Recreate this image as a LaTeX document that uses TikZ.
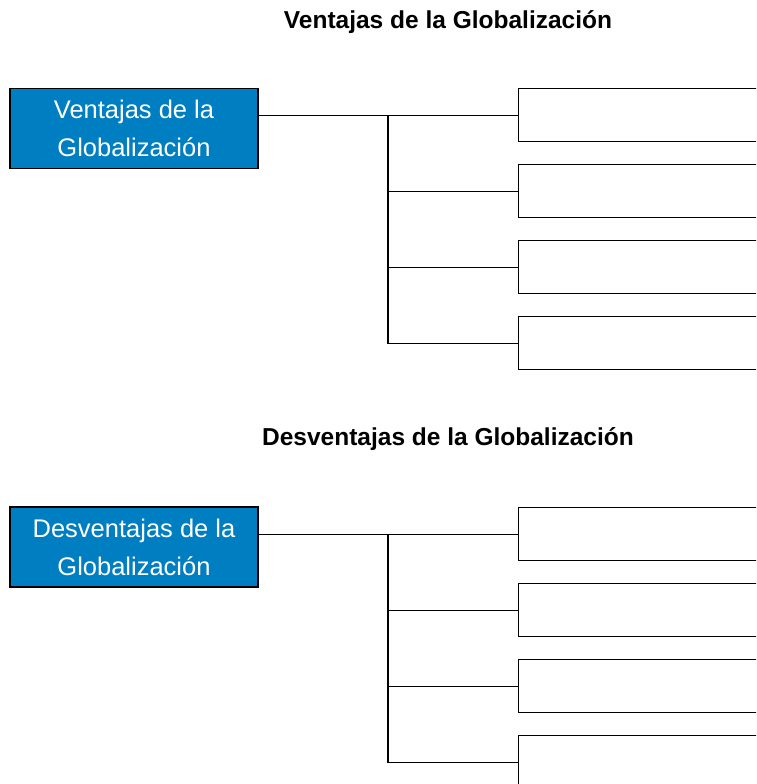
\documentclass[tikz,border=0pt]{standalone}
\usepackage{fontspec}
\setmainfont{Liberation Sans}
\definecolor{azul}{RGB}{0,126,194}
\begin{document}
\begin{tikzpicture}[x=1pt, y=-1pt, line width=1.2pt,
    tema/.style={draw, fill=azul, text=white, align=center,
        minimum width=248pt, minimum height=80pt, inner sep=0pt,
        font=\fontsize{25.5}{38}\selectfont},
    casilla/.style={draw, anchor=north west,
        minimum width=260pt, minimum height=53pt, inner sep=0pt},
    titulo/.style={anchor=base, font=\bfseries\fontsize{24.5}{29}\selectfont}]
\clip (0,0) rectangle (756,784);
% Ventajas
\node[titulo] (tv) at (448,29) {Ventajas de la Globalización};
\node[tema] (v) at (134,128.5) {Ventajas de la\\Globalización};
\foreach \i in {1,...,4}
{
    \node[casilla] (v\i) at (518,{88+76*(\i-1)}) {};
}
\path (v1.west) ++(-130,0) coordinate (vj);
\draw (v1.west -| v.east) -- (v1.west);
\draw (vj) |- (v4.west);
\draw (vj |- v2.west) -- (v2.west);
\draw (vj |- v3.west) -- (v3.west);

% Desventajas
\node[titulo] (td) at (448,445) {Desventajas de la Globalización};
\node[tema] (d) at (134,547) {Desventajas de la\\Globalización};
\foreach \i in {1,...,4}
{
    \node[casilla] (d\i) at (518,{507+76*(\i-1)}) {};
}
\path (d1.west) ++(-130,0) coordinate (dj);
\draw (d1.west -| d.east) -- (d1.west);
\draw (dj) |- (d4.west);
\draw (dj |- d2.west) -- (d2.west);
\draw (dj |- d3.west) -- (d3.west);
\end{tikzpicture}
\end{document}
